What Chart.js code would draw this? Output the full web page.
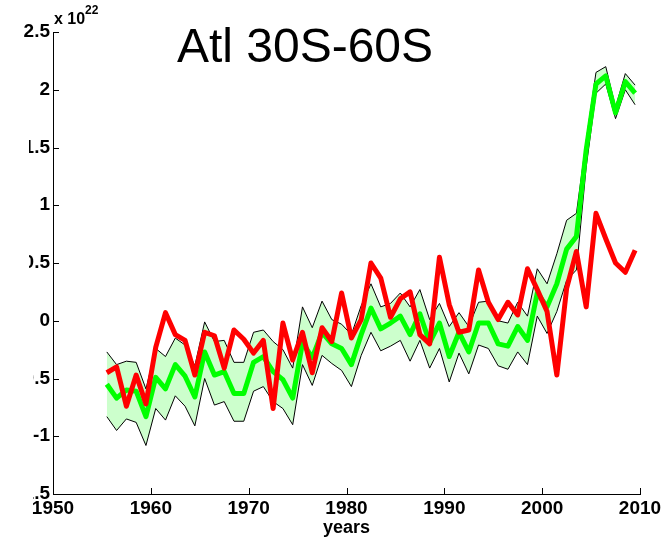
<!DOCTYPE html>
<html>
<head>
<meta charset="utf-8">
<script src="https://cdn.jsdelivr.net/npm/chart.js@4.4.1/dist/chart.umd.min.js"></script>
<style>
    body { margin: 0; background: #fff; }
</style>
</head>
<body>
<canvas id="atlChart" width="671" height="540"></canvas>
<script>
// yearly values, units of 10^22
const years = [
    1955.5, 1956.5, 1957.5, 1958.5, 1959.5, 1960.5, 1961.5, 1962.5, 1963.5, 1964.5,
    1965.5, 1966.5, 1967.5, 1968.5, 1969.5, 1970.5, 1971.5, 1972.5, 1973.5, 1974.5,
    1975.5, 1976.5, 1977.5, 1978.5, 1979.5, 1980.5, 1981.5, 1982.5, 1983.5, 1984.5,
    1985.5, 1986.5, 1987.5, 1988.5, 1989.5, 1990.5, 1991.5, 1992.5, 1993.5, 1994.5,
    1995.5, 1996.5, 1997.5, 1998.5, 1999.5, 2000.5, 2001.5, 2002.5, 2003.5, 2004.5,
    2005.5, 2006.5, 2007.5, 2008.5, 2009.5
];
const redSeries = [
    -0.45, -0.40, -0.74, -0.47, -0.72, -0.23, 0.07, -0.12, -0.17, -0.47,
    -0.10, -0.13, -0.41, -0.08, -0.16, -0.28, -0.17, -0.76, -0.02, -0.34,
    -0.10, -0.45, -0.06, -0.18, 0.24, -0.15, 0.01, 0.50, 0.37, 0.03,
    0.19, 0.25, -0.12, -0.20, 0.55, 0.14, -0.10, -0.08, 0.44, 0.16,
    0.01, 0.16, 0.05, 0.45, 0.27, 0.08, -0.47, 0.28, 0.60, 0.12,
    0.93, 0.71, 0.50, 0.42, 0.61
];
const greenSeries = [
    -0.55, -0.67, -0.60, -0.61, -0.83, -0.49, -0.59, -0.38, -0.48, -0.66,
    -0.27, -0.47, -0.44, -0.63, -0.63, -0.36, -0.31, -0.44, -0.51, -0.67,
    -0.19, -0.32, -0.10, -0.20, -0.24, -0.38, -0.12, 0.11, -0.07, -0.02,
    0.04, -0.12, 0.06, -0.19, -0.02, -0.31, -0.10, -0.27, -0.02, -0.02,
    -0.20, -0.22, -0.05, -0.17, 0.24, 0.12, 0.32, 0.62, 0.73, 1.48,
    2.05, 2.12, 1.80, 2.07, 1.97
];
const bandUpper = [
    -0.27, -0.38, -0.35, -0.36, -0.59, -0.24, -0.31, -0.15, -0.21, -0.39,
    -0.01, -0.18, -0.17, -0.36, -0.36, -0.10, -0.08, -0.18, -0.25, -0.41,
    0.12, -0.06, 0.17, 0.01, -0.03, -0.12, 0.13, 0.32, 0.12, 0.15,
    0.24, 0.12, 0.27, 0.01, 0.15, -0.05, 0.07, -0.05, 0.16, 0.17,
    0.00, -0.02, 0.16, 0.04, 0.45, 0.32, 0.58, 0.87, 0.93, 1.56,
    2.15, 2.20, 1.85, 2.14, 2.04
];
const bandLower = [
    -0.83, -0.95, -0.85, -0.88, -1.08, -0.76, -0.86, -0.65, -0.74, -0.91,
    -0.50, -0.73, -0.70, -0.87, -0.87, -0.61, -0.57, -0.70, -0.76, -0.90,
    -0.38, -0.56, -0.30, -0.37, -0.43, -0.57, -0.30, -0.10, -0.26, -0.22,
    -0.17, -0.35, -0.17, -0.41, -0.24, -0.53, -0.28, -0.46, -0.21, -0.24,
    -0.39, -0.42, -0.27, -0.38, 0.04, -0.11, 0.08, 0.35, 0.44, 1.33,
    1.97, 2.05, 1.75, 2.00, 1.87
];
const xTicks = [1950, 1960, 1970, 1980, 1990, 2000, 2010];
const yTicks = [-1.5, -1, -0.5, 0, 0.5, 1, 1.5, 2, 2.5];

function toPoints(values) {
    return years.map((yr, i) => ({x: yr, y: values[i]}));
}

// inward ticks, big title, exponent and the cut-off left edge
const decorations = {
    id: 'decorations',
    afterDraw(chart) {
        const ctx = chart.ctx;
        const {left, bottom} = chart.chartArea;
        const xs = chart.scales.x;
        const ys = chart.scales.y;
        ctx.save();
        ctx.strokeStyle = '#000';
        ctx.lineWidth = 1;
        ctx.beginPath();
        xs.ticks.forEach(t => {
            const px = Math.round(xs.getPixelForValue(t.value)) + 0.5;
            ctx.moveTo(px, bottom);
            ctx.lineTo(px, bottom - 6);
        });
        ys.ticks.forEach(t => {
            const py = Math.round(ys.getPixelForValue(t.value)) + 0.5;
            ctx.moveTo(left, py);
            ctx.lineTo(left + 6, py);
        });
        ctx.stroke();

        ctx.fillStyle = '#fff';
        ctx.fillRect(0, 48, 29, 252);
        ctx.fillRect(0, 300, 33, 203);

        ctx.fillStyle = '#000';
        ctx.textAlign = 'center';
        ctx.textBaseline = 'alphabetic';
        ctx.font = '48px "Liberation Sans", Arial, sans-serif';
        ctx.fillText('Atl 30S-60S', 305, 62);

        ctx.textAlign = 'left';
        ctx.font = 'bold 16px "Liberation Sans", Arial, sans-serif';
        ctx.fillText('x 10', 54, 24);
        ctx.font = 'bold 12px "Liberation Sans", Arial, sans-serif';
        ctx.fillText('22', 85, 14);
        ctx.restore();
    }
};

const tickFont = {family: '"Liberation Sans", Arial, sans-serif', size: 19, weight: 'bold'};

const data = {
    datasets: [
        {
            data: toPoints(bandUpper),
            borderColor: '#000',
            borderWidth: 1,
            backgroundColor: '#ccffcc',
            fill: '+1',
            pointRadius: 0,
            order: 3
        },
        {
            data: toPoints(bandLower),
            borderColor: '#000',
            borderWidth: 1,
            fill: false,
            pointRadius: 0,
            order: 2
        },
        {
            data: toPoints(greenSeries),
            borderColor: '#00ff00',
            borderWidth: 5,
            borderJoinStyle: 'round',
            fill: false,
            pointRadius: 0,
            order: 1
        },
        {
            data: toPoints(redSeries),
            borderColor: '#ff0000',
            borderWidth: 5,
            borderJoinStyle: 'round',
            fill: false,
            pointRadius: 0,
            order: 0
        }
    ]
};

new Chart(document.getElementById('atlChart'), {
    type: 'line',
    data: data,
    options: {
        responsive: false,
        animation: false,
        devicePixelRatio: 1,
        layout: {padding: {top: 32, right: 31, left: 0, bottom: 0}},
        plugins: {
            legend: {display: false},
            tooltip: {enabled: false}
        },
        scales: {
            x: {
                type: 'linear',
                min: 1950,
                max: 2010,
                afterBuildTicks: s => { s.ticks = xTicks.map(v => ({value: v})); },
                afterFit: s => { s.height = 46; },
                grid: {display: false, drawTicks: false},
                border: {display: true, color: '#000', width: 1},
                ticks: {
                    color: '#000',
                    font: tickFont,
                    padding: 3,
                    maxRotation: 0,
                    callback: v => String(v)
                },
                title: {
                    display: true,
                    text: 'years',
                    color: '#000',
                    font: {family: '"Liberation Sans", Arial, sans-serif', size: 18, weight: 'bold'},
                    padding: {top: 0, bottom: 1}
                }
            },
            y: {
                type: 'linear',
                min: -1.5,
                max: 2.5,
                afterBuildTicks: s => { s.ticks = yTicks.map(v => ({value: v})); },
                afterFit: s => { s.width = 53; },
                grid: {display: false, drawTicks: false},
                border: {display: true, color: '#000', width: 1},
                ticks: {
                    color: '#000',
                    font: tickFont,
                    padding: 3,
                    callback: v => String(v)
                }
            }
        }
    },
    plugins: [decorations]
});
</script>
</body>
</html>
